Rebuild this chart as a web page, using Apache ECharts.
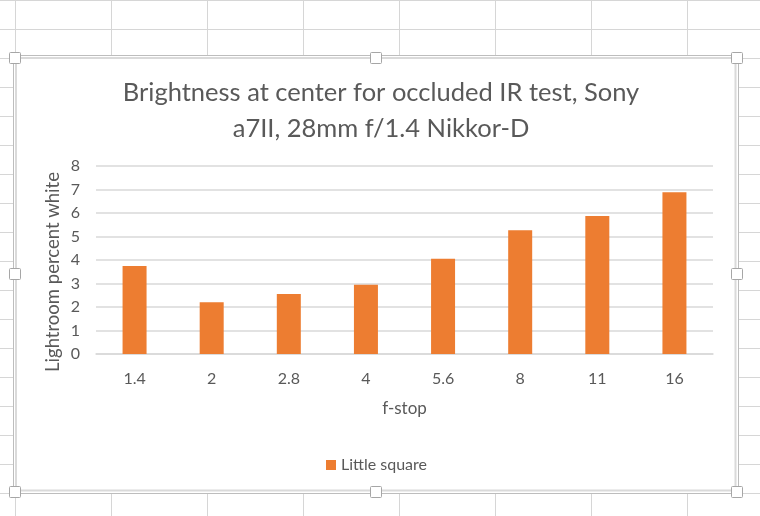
<!DOCTYPE html>
<html><head><meta charset="utf-8">
<script src="https://cdn.jsdelivr.net/npm/echarts@6/dist/echarts.min.js"></script>
<style>html,body{margin:0;padding:0;background:#fff}#c{width:760px;height:516px}</style>
</head><body><div id="c"></div>
<script>
const categories = ['1.4', '2', '2.8', '4', '5.6', '8', '11', '16'];
const littleSquare = [3.75, 2.2, 2.55, 2.95, 4.05, 5.27, 5.87, 6.88];
const yMin = 0, yMax = 8, yStep = 1;
const seriesName = 'Little square';
const titleText = 'Brightness at center for occluded IR test, Sony\na7II, 28mm f/1.4 Nikkor-D';
const xTitle = 'f-stop';
const yTitle = 'Lightroom percent white';

const FONT = 'Lato';
const TXT = '#595959';
const graphics = [];
// spreadsheet cell grid behind the chart
for (let x = 15.5; x < 760; x += 96) {
  graphics.push({type: 'line', z: -100, silent: true, shape: {x1: x, y1: 0, x2: x, y2: 516}, style: {stroke: '#d6d6d6', lineWidth: 1}});
}
for (let y = 0.5; y < 516; y += 29) {
  graphics.push({type: 'line', z: -100, silent: true, shape: {x1: 0, y1: y, x2: 760, y2: y}, style: {stroke: '#d6d6d6', lineWidth: 1}});
}
// chart area frame (selected)
graphics.push({type: 'rect', z: -50, silent: true, shape: {x: 13.5, y: 55.5, width: 725, height: 438}, style: {fill: '#ffffff', stroke: '#bdbdbd', lineWidth: 1}});
graphics.push({type: 'rect', z: -49, silent: true, shape: {x: 16, y: 58, width: 719.5, height: 432.5}, style: {fill: 'none', stroke: '#dadada', lineWidth: 2}});
const handles = [[15, 58], [376, 58], [737, 58], [15, 274], [737, 274], [15, 492], [376, 492], [737, 492]];
handles.forEach(([cx, cy]) => {
  graphics.push({type: 'rect', z: 100, silent: true, shape: {x: cx - 5.5, y: cy - 5.5, width: 11, height: 11, r: 1}, style: {fill: '#ffffff', stroke: '#a6a6a6', lineWidth: 1}});
});

const chart = echarts.init(document.getElementById('c'), null, {renderer: 'canvas'});
chart.setOption({
  backgroundColor: '#ffffff',
  animation: false,
  textStyle: {fontFamily: FONT},
  graphic: graphics,
  title: {
    text: titleText,
    left: 376,
    textAlign: 'center',
    top: 70,
    textStyle: {fontFamily: FONT, fontSize: 25.5, fontWeight: 'normal', color: TXT, lineHeight: 36}
  },
  legend: {
    data: [seriesName],
    left: 321,
    top: 452,
    icon: 'rect',
    itemWidth: 10,
    itemHeight: 10,
    itemGap: 5,
    textStyle: {fontFamily: FONT, fontSize: 16, color: TXT}
  },
  grid: {left: 96, right: 47, top: 166, bottom: 162, containLabel: false},
  xAxis: {
    type: 'category',
    data: categories,
    name: xTitle,
    nameLocation: 'middle',
    nameGap: 46,
    nameTextStyle: {fontFamily: FONT, fontSize: 17, color: TXT},
    axisLine: {show: true, lineStyle: {color: '#d9d9d9', width: 1.5}},
    axisTick: {show: false},
    axisLabel: {margin: 17, fontFamily: FONT, fontSize: 16, color: TXT}
  },
  yAxis: {
    type: 'value',
    min: yMin, max: yMax, interval: yStep,
    name: yTitle,
    nameLocation: 'middle',
    nameGap: 33,
    nameMoveOverlap: false,
    nameTextStyle: {fontFamily: FONT, fontSize: 18.5, color: TXT, padding: [0, 24, 0, 0]},
    axisLine: {show: false},
    axisTick: {show: false},
    axisLabel: {margin: 16, fontFamily: FONT, fontSize: 16, color: TXT},
    splitLine: {lineStyle: {color: '#d9d9d9', width: 1.5}}
  },
  series: [{
    name: seriesName,
    type: 'bar',
    data: littleSquare,
    barWidth: 24,
    itemStyle: {color: '#ED7D31'}
  }]
});
</script></body></html>
